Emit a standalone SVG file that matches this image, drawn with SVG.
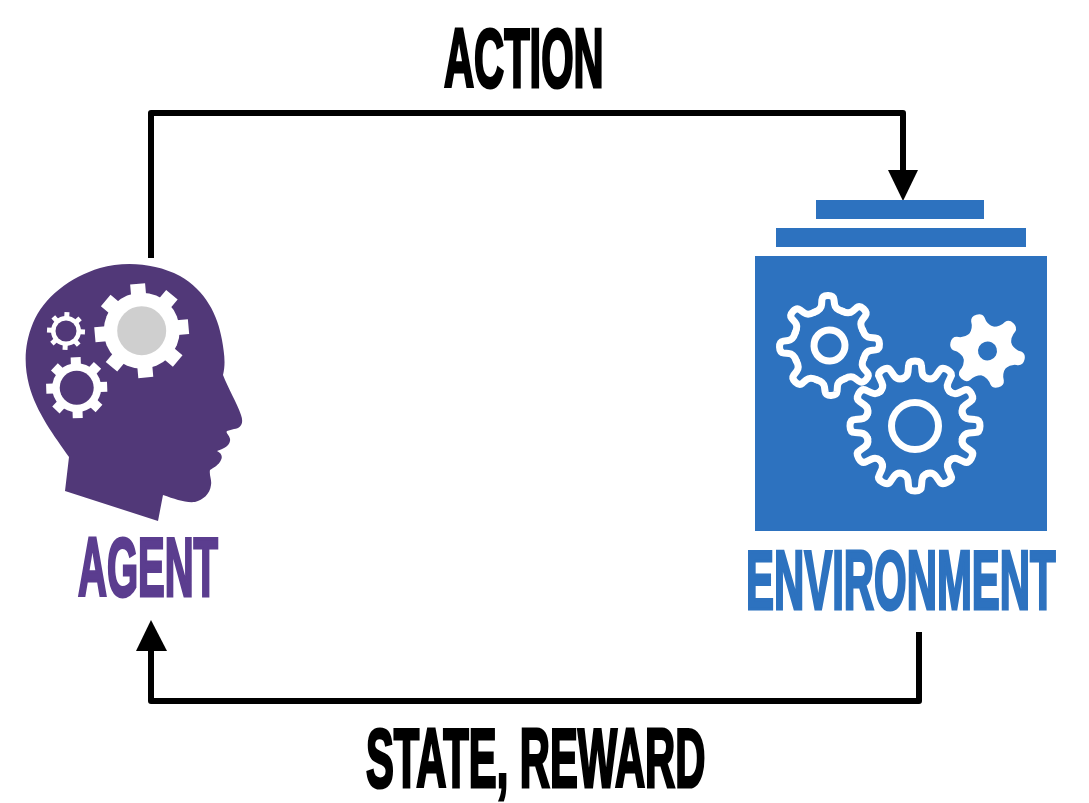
<svg xmlns="http://www.w3.org/2000/svg" width="1089" height="803" viewBox="0 0 1089 803">
<style>
.t{font-family:"Liberation Sans",Arial,sans-serif;font-weight:700;font-size:83px;stroke-width:2.5px;stroke-linejoin:miter;vector-effect:non-scaling-stroke}
.k{fill:#000;stroke:#000}
.a{fill:#5b3d8f;stroke:#5b3d8f}
.e{fill:#2d72bf;stroke:#2d72bf}
.c{fill:none;stroke:#000;stroke-width:6;stroke-linejoin:round}
.b{fill:#2d72bf}
.w{fill:none;stroke:#fff;stroke-width:7;stroke-linejoin:round;stroke-linecap:round}
</style>
<defs>
<path id="ta" d="M-14-33.800Q-7-36-6.500-41L-6-46Q-5.500-50 0-50Q5.500-50 6-46L6.500-41Q7-36 14-33.800"/>
<path id="tb" d="M-12.700-47.300Q-7.500-49-7-54L-6.500-60Q-6.500-65 0-65Q6.500-65 6.500-60L7-54Q7.500-49 12.700-47.300"/>
<path id="tc" d="M-13-21Q-7-26-7-33Q-6-38 0-38Q6-38 7-33Q7-26 13-21Z"/>
</defs>
<g id="connectors">
<path class="c" d="M151 258V113H903V172"/>
<path d="M888 170H918L903 201Z"/>
<path class="c" d="M919 632V701H151V649"/>
<path d="M136 651H167L151 620Z"/>
</g>
<g id="action-label"><text class="t k" transform="translate(444 87) scale(.502 1)">ACTION</text></g>
<g id="state-reward-label"><text class="t k" transform="translate(366 787) scale(.503 1)">STATE, REWARD</text></g>
<g id="agent">
<path fill="#513878" d="M65 491L69 457C55 437 36 412 29 385C24 365 24 345 33 323C44 297 70 277 100 268C125 261 155 263 180 276C205 290 218 315 222 340C224 352 226 363 223 375C228 388 237 403 241 415C244 423 241 428 234 429L227 431C225 433 231 436 230 441C229 447 222 449 217 451C221 453 223 456 221 460C219 465 213 468 210 470C209 475 212 480 211 485C210 494 203 500 195 502C185 503 175 499 163 495L158 521Z"/>
<g fill="#fff" stroke="none">
<circle cx="141.700" cy="330.700" r="38"/>
<g fill="none" stroke="#fff" stroke-width="15" transform="translate(141.700 330.700) rotate(-5)">
<path d="M0-47V47M-47 0H47"/><path d="M0-47V47M-47 0H47" transform="rotate(45)"/>
</g>
<circle cx="141.700" cy="330.700" r="24.500" fill="#cfcfcf"/>
<circle cx="66" cy="331" r="15"/>
<g fill="none" stroke="#fff" stroke-width="5" transform="translate(66 331) rotate(3)">
<path d="M0-19V19M-19 0H19"/><path d="M0-19V19M-19 0H19" transform="rotate(45)"/>
</g>
<circle cx="66" cy="331" r="10.500" fill="#513878"/>
<circle cx="76.700" cy="387.700" r="24.500"/>
<g fill="none" stroke="#fff" stroke-width="10" transform="translate(76.700 387.700) rotate(-2)">
<path d="M0-30.500V30.500M-30.500 0H30.500"/><path d="M0-30.500V30.500M-30.500 0H30.500" transform="rotate(45)"/>
</g>
<circle cx="76.700" cy="387.700" r="17" fill="#513878"/>
</g>
<text class="t a" transform="translate(78 596) scale(.482 1)">AGENT</text>
</g>
<g id="environment">
<rect class="b" x="816" y="200" width="168" height="19"/>
<rect class="b" x="776" y="228" width="250" height="19"/>
<rect class="b" x="755" y="256" width="292" height="275"/>
<g class="w" transform="translate(829.500 345.500) rotate(-2)">
<use href="#ta"/><use href="#ta" transform="rotate(45)"/><use href="#ta" transform="rotate(90)"/><use href="#ta" transform="rotate(135)"/><use href="#ta" transform="rotate(180)"/><use href="#ta" transform="rotate(225)"/><use href="#ta" transform="rotate(270)"/><use href="#ta" transform="rotate(315)"/>
<circle r="15.500"/>
</g>
<g class="w" transform="translate(915 426)">
<use href="#tb"/><use href="#tb" transform="rotate(30)"/><use href="#tb" transform="rotate(60)"/><use href="#tb" transform="rotate(90)"/><use href="#tb" transform="rotate(120)"/><use href="#tb" transform="rotate(150)"/><use href="#tb" transform="rotate(180)"/><use href="#tb" transform="rotate(210)"/><use href="#tb" transform="rotate(240)"/><use href="#tb" transform="rotate(270)"/><use href="#tb" transform="rotate(300)"/><use href="#tb" transform="rotate(330)"/>
<circle r="23.500"/>
</g>
<g fill="#fff" transform="translate(987.500 351) rotate(-17)">
<circle r="25"/>
<use href="#tc"/><use href="#tc" transform="rotate(60)"/><use href="#tc" transform="rotate(120)"/><use href="#tc" transform="rotate(180)"/><use href="#tc" transform="rotate(240)"/><use href="#tc" transform="rotate(300)"/>
<circle r="9.500" class="b"/>
</g>
<text class="t e" transform="translate(746 609) scale(.505 1)">ENVIRONMENT</text>
</g>
</svg>
